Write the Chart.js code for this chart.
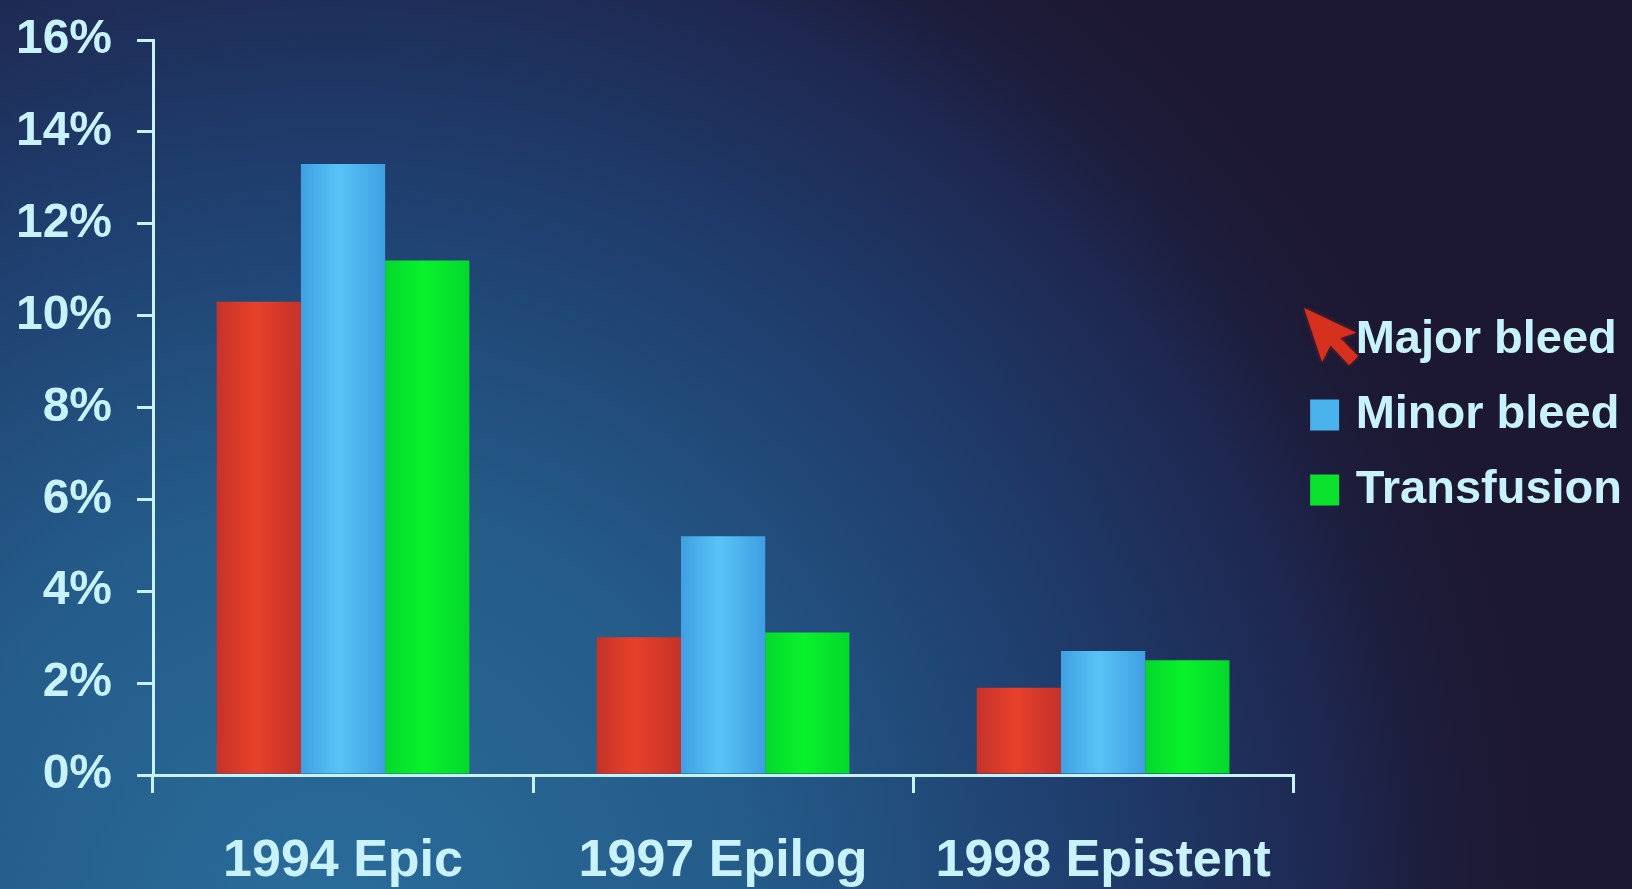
<!DOCTYPE html>
<html>
<head>
<meta charset="utf-8">
<script src="https://cdn.jsdelivr.net/npm/chart.js@4/dist/chart.umd.min.js"></script>
<style>
  html, body { margin: 0; padding: 0; background: #1d1a36; }
  #wrap { width: 1632px; height: 889px; }
</style>
</head>
<body>
<div id="wrap"><canvas id="bleed-chart"></canvas></div>
<script>
// Bleeding rates per trial
const trials = ["1994 Epic", "1997 Epilog", "1998 Epistent"];
const majorBleed = [10.3, 3.0, 1.9];
const minorBleed = [13.3, 5.2, 2.7];
const transfusion = [11.2, 3.1, 2.5];
const yTicks = [0, 2, 4, 6, 8, 10, 12, 14, 16];

const textColor = "#c8f3fc";
const fontFamily = '"Liberation Sans", Arial, sans-serif';
const swatchColors = ["#e23d28", "#4ab2ec", "#0ae22e"];

// Slide background: teal glow bottom-left fading to dark violet on the right
const backgroundPlugin = {
  id: "slideBackground",
  beforeDraw(chart) {
    const ctx = chart.ctx;
    const w = chart.width, h = chart.height;
    ctx.save();
    ctx.fillStyle = "#1c1832";
    ctx.fillRect(0, 0, w, h);
    const g = ctx.createRadialGradient(330, h + 40, 0, 330, h + 40, 1300);
    g.addColorStop(0, "#2a6d9b");
    g.addColorStop(0.33, "#245b89");
    g.addColorStop(0.58, "#1f3e6e");
    g.addColorStop(0.78, "#1e2750");
    g.addColorStop(0.95, "rgba(28,24,50,0)");
    ctx.fillStyle = g;
    ctx.fillRect(0, 0, w, h);
    ctx.restore();
  },
};

// Legend swatches (29x31) and the red pointer arrow on the first entry
const legendMarksPlugin = {
  id: "legendMarks",
  afterDraw(chart) {
    const boxes = chart.legend && chart.legend.legendHitBoxes;
    if (!boxes || !boxes.length) return;
    const ctx = chart.ctx;
    ctx.save();
    boxes.forEach((b, i) => {
      if (i === 0) return;
      const cy = b.top + b.height / 2;
      ctx.fillStyle = swatchColors[i];
      ctx.fillRect(b.left, cy - 15.5, 29, 31);
    });

    const first = boxes[0];
    ctx.translate(first.left - 6, first.top + first.height / 2 - 32);
    ctx.rotate(-0.32);
    ctx.scale(1.9, 1.9);
    ctx.beginPath();
    ctx.moveTo(0, 0);
    ctx.lineTo(0, 30);
    ctx.lineTo(7, 23);
    ctx.lineTo(13, 36);
    ctx.lineTo(19, 33);
    ctx.lineTo(13, 21);
    ctx.lineTo(22, 21);
    ctx.closePath();
    ctx.fillStyle = "#d6311f";
    ctx.shadowColor = "rgba(200,40,20,0.6)";
    ctx.shadowBlur = 4;
    ctx.fill();
    ctx.restore();
  },
};

// Soft rounded shading across each bar
function barShade(edge, mid) {
  return (c) => {
    const el = c.element;
    if (!el || el.x == null || !el.width) return mid;
    const g = c.chart.ctx.createLinearGradient(el.x - el.width / 2, 0, el.x + el.width / 2, 0);
    g.addColorStop(0, edge);
    g.addColorStop(0.45, mid);
    g.addColorStop(1, edge);
    return g;
  };
}

const ctx = document.getElementById("bleed-chart").getContext("2d");

const chart = new Chart(ctx, {
  type: "bar",
  data: {
    labels: trials,
    datasets: [
      {
        label: "Major bleed",
        data: majorBleed,
        backgroundColor: barShade("#c5322a", "#e8412a"),
        borderWidth: 0,
      },
      {
        label: "Minor bleed",
        data: minorBleed,
        backgroundColor: barShade("#3f9fe2", "#58c4f6"),
        borderWidth: 0,
      },
      {
        label: "Transfusion",
        data: transfusion,
        backgroundColor: barShade("#05d82c", "#08f22c"),
        borderWidth: 0,
      },
    ],
  },
  options: {
    responsive: true,
    maintainAspectRatio: false,
    animation: false,
    categoryPercentage: 0.665,
    barPercentage: 1,
    layout: { padding: { top: 40, left: 0, right: 0, bottom: 0 } },
    plugins: {
      tooltip: { enabled: false },
      legend: {
        position: "right",
        fullSize: false,
        title: {
          display: true,
          text: " ",
          font: { size: 10 },
          padding: { top: 3, bottom: 0 },
        },
        labels: {
          color: textColor,
          font: { family: fontFamily, size: 47, weight: "bold" },
          boxWidth: 22,
          boxHeight: 58,
          padding: 17,
          // swatches are painted by legendMarksPlugin
          generateLabels(chart) {
            return Chart.defaults.plugins.legend.labels
              .generateLabels(chart)
              .map((item) => ({
                ...item,
                fillStyle: "rgba(0,0,0,0)",
                strokeStyle: "rgba(0,0,0,0)",
                lineWidth: 0,
              }));
          },
        },
      },
    },
    scales: {
      x: {
        afterFit(axis) {
          axis.height = 114;
        },
        grid: {
          display: true,
          drawOnChartArea: false,
          color: textColor,
          lineWidth: 3,
          tickLength: 18,
        },
        border: { color: textColor, width: 3 },
        ticks: {
          color: textColor,
          font: { family: fontFamily, size: 52, weight: "bold" },
          padding: 37,
        },
      },
      y: {
        min: 0,
        max: 16,
        afterBuildTicks(axis) {
          axis.ticks = yTicks.map((v) => ({ value: v }));
        },
        afterFit(axis) {
          axis.width = 153;
          axis.paddingTop = 29;
          axis.paddingBottom = 29;
        },
        grid: {
          display: true,
          drawOnChartArea: false,
          color: textColor,
          lineWidth: 3,
          tickLength: 16,
        },
        border: { color: textColor, width: 3 },
        ticks: {
          color: textColor,
          font: { family: fontFamily, size: 48, weight: "bold" },
          padding: 25,
          callback: (v) => v + "%",
        },
      },
    },
  },
  plugins: [backgroundPlugin, legendMarksPlugin],
});

// second pass so the bar shading knows each bar's position
chart.update();
</script>
</body>
</html>
